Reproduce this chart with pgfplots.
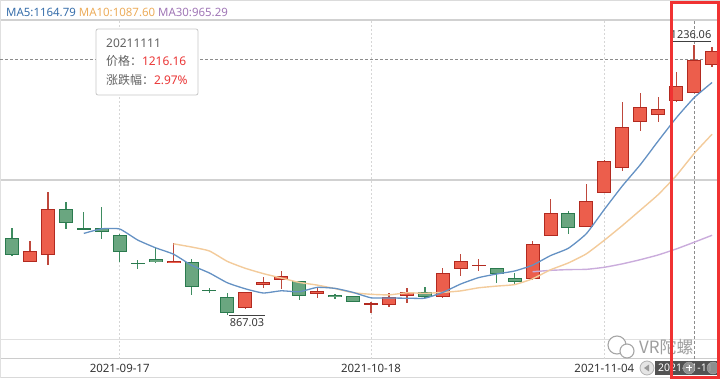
\documentclass[border=0pt]{standalone}
\usepackage{pgfplots}
\pgfplotsset{compat=1.18}
\usepackage{pgfplotstable}
\usepackage{fontspec}
\setmainfont{Noto Sans}
\newfontfamily\cjk{Noto Sans CJK SC}
\definecolor{upfill}{RGB}{236,94,76}
\definecolor{upline}{RGB}{178,42,32}
\definecolor{upwick}{RGB}{190,72,60}
\definecolor{dnfill}{RGB}{106,166,128}
\definecolor{dnline}{RGB}{42,122,78}
\definecolor{dnwick}{RGB}{62,140,96}
\definecolor{ma5c}{RGB}{100,145,195}
\definecolor{ma10c}{RGB}{243,203,155}
\definecolor{ma30c}{RGB}{202,172,220}
\definecolor{ma5t}{RGB}{55,110,170}
\definecolor{ma10t}{RGB}{236,172,90}
\definecolor{ma30t}{RGB}{160,118,182}
\definecolor{tipred}{RGB}{235,55,55}
\definecolor{boxred}{RGB}{240,50,50}

% up (red) candles: index, open, high, low, close
\pgfplotstableread{
i o h l c
1 939.4 968.1 939.4 954.5
2 949.0 1035.1 935.3 1011.9
9 938.1 965.4 937.4 940.8
13 876.5 898.4 875.8 898.4
14 908.0 918.9 903.9 912.1
15 914.8 927.1 902.5 920.3
17 895.7 903.9 890.2 899.8
20 882.0 884.1 869.7 883.4
21 880.6 897.0 877.9 891.6
22 893.0 903.9 883.4 898.4
24 891.6 931.2 890.9 924.4
25 929.9 950.4 920.3 940.8
26 934.0 943.5 927.1 935.3
29 916.2 968.1 915.5 964.0
30 975.0 1025.6 974.3 1006.4
32 987.3 1046.1 986.6 1022.8
33 1033.7 1078.2 1033.1 1077.5
34 1068.0 1158.2 1063.8 1124.0
35 1130.8 1170.5 1118.5 1151.3
36 1140.4 1165.0 1130.8 1148.6
37 1159.5 1199.2 1158.8 1180.0
38 1170.5 1236.06 1169.8 1216.16
39 1208.7 1233.3 1206.0 1227.9
}\up

% down (green) candles
\pgfplotstableread{
i o h l c
0 972.3 985.9 947.6 949.0
3 1011.9 1021.5 984.5 992.7
4 985.9 1007.8 983.2 984.5
5 985.9 1014.6 970.9 980.4
6 976.3 977.7 939.4 953.1
7 938.1 942.2 929.9 936.7
8 943.5 959.9 938.1 939.4
10 939.4 943.5 894.3 905.2
11 901.2 903.9 897.0 899.8
12 891.6 897.0 867.03 869.7
16 913.5 914.1 887.5 893.0
18 894.3 895.7 888.9 891.6
19 893.0 893.6 884.1 884.7
23 898.4 905.2 890.9 891.6
27 931.2 931.9 910.7 923.0
28 917.5 924.4 909.4 912.1
31 1006.4 1009.1 977.7 985.9
}\dn

\pgfplotstableread{
i v
4 978.52
5 984.80
6 984.52
7 969.48
8 958.82
9 950.08
10 935.04
11 924.38
12 910.98
13 902.78
14 897.04
15 900.06
16 898.70
17 904.72
18 903.36
19 897.88
20 890.50
21 890.22
22 889.94
23 889.94
24 897.88
25 909.36
26 918.10
27 923.02
28 927.12
29 935.04
30 948.16
31 958.28
32 978.24
33 1011.32
34 1043.32
35 1072.30
36 1104.84
37 1136.28
38 1164.01
39 1184.79
}\mafive

\pgfplotstableread{
i v
9 964.30
10 959.92
11 954.45
12 940.23
13 930.80
14 923.56
15 917.55
16 911.54
17 907.85
18 903.07
19 897.46
20 895.28
21 894.46
22 897.33
23 896.65
24 897.88
25 899.93
26 904.16
27 906.48
28 908.53
29 916.46
30 928.76
31 938.19
32 950.63
33 969.22
34 989.18
35 1010.23
36 1031.56
37 1057.26
38 1087.67
39 1114.06
}\maten

\pgfplotstableread{
i v
29 926.07
30 927.99
31 929.03
32 929.40
33 932.22
34 936.87
35 942.57
36 949.09
37 957.20
38 966.42
39 975.99
}\mathirty

\pgfplotsset{
  candle/.style 2 args={draw=none, no markers, forget plot,
    error bars/.cd, y dir=both, y explicit, error mark=none,
    error bar style={line width=#1, draw=#2}},
}

\begin{document}
\begin{tikzpicture}
\useasboundingbox (0,0) rectangle (720bp,380bp);
% frame and grid
\draw[black!14, line width=1bp] (0,379.5bp) -- (720bp,379.5bp);
\draw[black!18, line width=1.3bp] (0,360bp) -- (720bp,360bp);
\draw[black!18, line width=1.3bp] (0,200bp) -- (720bp,200bp);
\draw[black!12, line width=1bp] (0,40.5bp) -- (720bp,40.5bp);
\draw[black!20, line width=1bp] (0,21bp) -- (720bp,21bp);
\draw[black!15, line width=1bp] (0,2bp) -- (720bp,2bp);
\draw[black!12, line width=1bp] (0.5bp,2bp) -- (0.5bp,379.5bp);
\foreach \xx in {119.7,371.3,604.4}{
  \draw[black!16, line width=0.9bp, dash pattern=on 1.5bp off 2.5bp] (\xx bp,21bp) -- (\xx bp,360bp);
}
\draw[black!45, line width=0.8bp, dash pattern=on 2.5bp off 2.5bp] (694.1bp,21bp) -- (694.1bp,360bp);
\draw[black!45, line width=0.8bp, dash pattern=on 2.5bp off 2.5bp] (0,320.4bp) -- (720bp,320.4bp);

\begin{axis}[
  at={(0,0)}, anchor=south west, scale only axis,
  width=720bp, height=380bp,
  xmin=-0.6685, xmax=39.443, ymin=778.12, ymax=1297.58,
  axis line style={draw=none},
  xtick={6,20,33},
  xticklabels={2021-09-17,2021-10-18,2021-11-04},
  xticklabel style={anchor=center, yshift=12bp, font=\fontsize{11.5}{13}\selectfont, text=black!80},
  ytick=\empty, major tick length=0pt,
  clip=false,
]
% wicks
\addplot[candle={1.3bp}{upwick}]
  table[x=i, y expr={(\thisrow{h}+\thisrow{l})/2}, y error expr={(\thisrow{h}-\thisrow{l})/2}] {\up};
\addplot[candle={1.3bp}{dnwick}]
  table[x=i, y expr={(\thisrow{h}+\thisrow{l})/2}, y error expr={(\thisrow{h}-\thisrow{l})/2}] {\dn};
% body borders
\addplot[candle={14bp}{upline}]
  table[x=i, y expr={(\thisrow{o}+\thisrow{c})/2}, y error expr={max(abs(\thisrow{c}-\thisrow{o})/2,1.0)}] {\up};
\addplot[candle={14bp}{dnline}]
  table[x=i, y expr={(\thisrow{o}+\thisrow{c})/2}, y error expr={max(abs(\thisrow{c}-\thisrow{o})/2,1.0)}] {\dn};
% body fills
\addplot[candle={12bp}{upfill}]
  table[x=i, y expr={(\thisrow{o}+\thisrow{c})/2}, y error expr={max(abs(\thisrow{c}-\thisrow{o})/2-1.3,0)}] {\up};
\addplot[candle={12bp}{dnfill}]
  table[x=i, y expr={(\thisrow{o}+\thisrow{c})/2}, y error expr={max(abs(\thisrow{c}-\thisrow{o})/2-1.3,0)}] {\dn};
% moving averages
\addplot[ma30c, line width=1.4bp, smooth, tension=0.3] table[x=i, y=v] {\mathirty};
\addplot[ma10c, line width=1.4bp, smooth, tension=0.3] table[x=i, y=v] {\maten};
\addplot[ma5c, line width=1.3bp, smooth, tension=0.3] table[x=i, y=v] {\mafive};
\end{axis}

% legend
\node[anchor=west, inner sep=0pt, font=\fontsize{11.5}{13}\selectfont] at (6bp,368bp)
  {\textcolor{ma5t}{MA5:1164.79} \textcolor{ma10t}{MA10:1087.60} \textcolor{ma30t}{MA30:965.29}};

% tooltip
\draw[black!22, line width=0.8bp, fill=white, rounded corners=2bp] (96bp,351bp) rectangle (198bp,285bp);
\node[anchor=west, inner sep=0pt, font=\fontsize{12}{14}\selectfont, text=black!62] at (106bp,337bp) {20211111};
\node[anchor=west, inner sep=0pt, font=\fontsize{12}{14}\selectfont, text=black!62] at (106bp,319bp) {{\cjk 价格：}\textcolor{tipred}{1216.16}};
\node[anchor=west, inner sep=0pt, font=\fontsize{12}{14}\selectfont, text=black!62] at (106bp,300bp) {{\cjk 涨跌幅：}\textcolor{tipred}{2.97\%}};

% max / min labels
\draw[black!75, line width=0.8bp] (671bp,338.5bp) -- (711bp,338.5bp);
\node[inner sep=0pt, font=\fontsize{11}{13}\selectfont, text=black!78] at (691bp,345bp) {1236.06};
\draw[black!75, line width=0.8bp] (229bp,65bp) -- (265bp,65bp);
\node[inner sep=0pt, font=\fontsize{11}{13}\selectfont, text=black!78] at (247bp,57.5bp) {867.03};

% watermark
\draw[black!35, line width=1.1bp, fill=white] (617bp,35bp) circle (9bp);
\draw[black!35, line width=1.1bp, fill=white] (627bp,29bp) circle (7bp);
\node[anchor=west, inner sep=0pt, font=\cjk\fontsize{17}{19}\selectfont, text=black!38] at (639bp,33bp) {VR陀螺};

% slider handle
\fill[black!68] (655bp,5bp) rectangle (720bp,19bp);
\node[anchor=west, inner sep=0pt, font=\fontsize{10.5}{12}\selectfont, text=white] at (658bp,12bp) {2021-11-11};
\draw[black!30, fill=black!10, line width=0.8bp] (647bp,12bp) circle (7bp);
\fill[black!40] (644bp,12bp) -- (649bp,15.5bp) -- (649bp,8.5bp) -- cycle;
\draw[black!30, fill=black!40, opacity=0.85] (689bp,12bp) circle (6bp);
\draw[white, line width=1bp] (686bp,12bp) -- (692bp,12bp) (689bp,9bp) -- (689bp,15bp);
\draw[black!30, fill=black!40, opacity=0.85] (713bp,12bp) circle (6bp);

% highlight box
\draw[boxred, line width=3bp] (671.5bp,377.5bp) rectangle (718.5bp,2.5bp);
\end{tikzpicture}
\end{document}
